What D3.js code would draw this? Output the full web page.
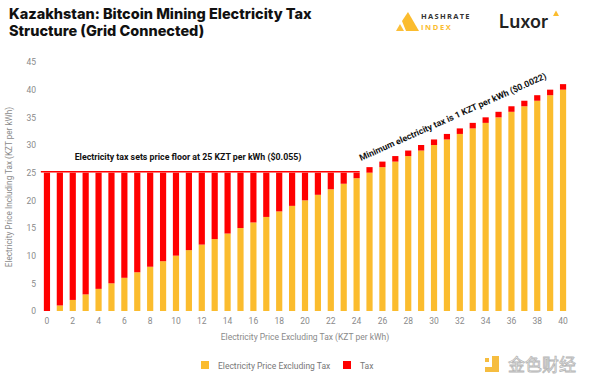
<!DOCTYPE html>
<html>
<head>
<meta charset="utf-8">
<script src="https://cdn.jsdelivr.net/npm/d3@7"></script>
<style>
 body { margin: 0; background: #fff; }
 svg { display: block; }
</style>
</head>
<body>
<svg id="kz_tax" width="600" height="385"></svg>
<script>

// categories: electricity price excluding tax (KZT per kWh)
var price_excl = [0, 1, 2, 3, 4, 5, 6, 7, 8, 9, 10, 11, 12, 13, 14, 15, 16, 17, 18, 19, 20,
                  21, 22, 23, 24, 25, 26, 27, 28, 29, 30, 31, 32, 33, 34, 35, 36, 37, 38, 39, 40];

// tax on top of that price
var tax_vals = [25, 24, 23, 22, 21, 20, 19, 18, 17, 16, 15, 14, 13, 12, 11, 10, 9, 8, 7, 6, 5,
                4, 3, 2, 1, 1, 1, 1, 1, 1, 1, 1, 1, 1, 1, 1, 1, 1, 1, 1, 1];

var y_ticks = [0, 5, 10, 15, 20, 25, 30, 35, 40, 45];
var x_ticks = [0, 2, 4, 6, 8, 10, 12, 14, 16, 18, 20, 22, 24, 26, 28, 30, 32, 34, 36, 38, 40];

var floor_price = 25;
var floor_end = 24;

var c_price = "#fbbc2e";
var c_tax = "#ff0000";

var svg = d3.select("#kz_tax");

// plot area
var margin = {top: 62, right: 30, bottom: 74, left: 40};
var width = 600 - margin.left - margin.right;
var height = 385 - margin.top - margin.bottom;

var g = svg.append("g")
    .attr("transform", "translate(" + margin.left + "," + margin.top + ")");

var rows = price_excl.map(function(p, i) { return {x: p, price: p, tax: tax_vals[i]}; });
var stacked = d3.stack().keys(["price", "tax"])(rows);

var x = d3.scaleBand()
    .domain(price_excl)
    .range([0.5, 529.5])
    .paddingInner(0.52)
    .paddingOuter(0.26);

var y = d3.scaleLinear().domain([0, 45]).range([249, 0]);

// bars
g.selectAll(".layer")
    .data(stacked)
  .enter().append("g")
    .attr("class", "layer")
    .attr("fill", function(d, i) { return i === 0 ? c_price : c_tax; })
  .selectAll("rect")
    .data(function(d) { return d; })
  .enter().append("rect")
    .attr("x", function(d) { return x(d.data.x); })
    .attr("width", x.bandwidth())
    .attr("y", function(d) { return y(d[1]); })
    .attr("height", function(d) { return Math.max(0, y(d[0]) - y(d[1])); });

// price floor line
g.append("line")
    .attr("x1", x(0) - 3)
    .attr("x2", x(floor_end) + x.bandwidth())
    .attr("y1", y(floor_price) - 1)
    .attr("y2", y(floor_price) - 1)
    .attr("stroke", c_tax)
    .attr("stroke-width", 1.5);

// axes
var xAxis = d3.axisBottom(x).tickValues(x_ticks).tickSize(0).tickPadding(7);
var yAxis = d3.axisLeft(y).tickValues(y_ticks).tickSize(0).tickPadding(4);

g.append("g")
    .attr("class", "axis axis--x")
    .attr("transform", "translate(0," + height + ")")
    .call(xAxis);

g.append("g")
    .attr("class", "axis axis--y")
    .call(yAxis);

svg.selectAll(".axis path").remove();
svg.selectAll(".axis text")
    .attr("fill", "#8a8a8a")
    .style("font-family", "Roboto, sans-serif")
    .style("font-size", "8.5px");

// axis titles
svg.append("text")
    .attr("x", 305).attr("y", 340)
    .attr("text-anchor", "middle")
    .attr("fill", "#8a8a8a")
    .style("font-family", "Roboto, sans-serif")
    .style("font-size", "8.5px")
    .text("Electricity Price Excluding Tax (KZT per kWh)");

svg.append("text")
    .attr("transform", "translate(12,187) rotate(-90)")
    .attr("text-anchor", "middle")
    .attr("fill", "#8a8a8a")
    .style("font-family", "Roboto, sans-serif")
    .style("font-size", "8.2px")
    .text("Electricity Price Including Tax (KZT per kWh)");

// annotations
svg.append("text")
    .attr("x", 188).attr("y", 160)
    .attr("text-anchor", "middle")
    .attr("fill", "#111")
    .style("font-family", "Roboto, sans-serif")
    .style("font-weight", "bold")
    .style("font-size", "8.8px")
    .text("Electricity tax sets price floor at 25 KZT per kWh ($0.055)");

svg.append("text")
    .attr("transform", "translate(361,161) rotate(-24)")
    .attr("fill", "#111")
    .style("font-family", "Roboto, sans-serif")
    .style("font-weight", "bold")
    .style("font-size", "8.8px")
    .text("Minimum electricity tax is 1 KZT per kWh ($0.0022)");

// title
var title = svg.append("text")
    .attr("fill", "#111")
    .style("font-family", "Inter, 'Open Sans', sans-serif")
    .style("font-weight", "800")
    .style("font-size", "14.5px");
title.append("tspan").attr("x", 9).attr("y", 19).text("Kazakhstan: Bitcoin Mining Electricity Tax");
title.append("tspan").attr("x", 9).attr("y", 36).text("Structure (Grid Connected)");

// logos
var logo = svg.append("g");
logo.append("path")
    .attr("d", "M396,31 L400,24 L404,31 Z")
    .attr("fill", "#fbbf3a");
logo.append("path")
    .attr("d", "M402,21 L408,12 L419,31 L406,31 Z")
    .attr("fill", "#fbbc2e");
logo.append("text")
    .attr("x", 421).attr("y", 19)
    .attr("fill", "#333")
    .style("font-family", "'Open Sans', sans-serif")
    .style("font-weight", "bold")
    .style("font-size", "7.5px")
    .style("letter-spacing", "1.3px")
    .text("HASHRATE");
logo.append("text")
    .attr("x", 421).attr("y", 30)
    .attr("fill", "#fbbc2e")
    .style("font-family", "'Open Sans', sans-serif")
    .style("font-weight", "bold")
    .style("font-size", "7.5px")
    .style("letter-spacing", "1.6px")
    .text("INDEX");
logo.append("text")
    .attr("x", 499).attr("y", 28)
    .attr("fill", "#222")
    .style("font-family", "Inter, 'Open Sans', sans-serif")
    .style("font-weight", "600")
    .style("font-size", "18px")
    .text("Luxor");
logo.append("path")
    .attr("d", "M553,16 L556,10.5 L559,16 Z")
    .attr("fill", "#fbbc2e");

// legend
var legend_items = ["Electricity Price Excluding Tax", "Tax"];
var legend_x = [201, 343];
var legend = svg.selectAll(".legend")
    .data(legend_items)
  .enter().append("g")
    .attr("class", "legend")
    .attr("transform", function(d, i) { return "translate(" + legend_x[i] + ",361)"; });
legend.append("rect")
    .attr("width", 8).attr("height", 8)
    .attr("fill", function(d, i) { return i === 0 ? c_price : c_tax; });
legend.append("text")
    .attr("x", 17).attr("y", 7.5)
    .attr("fill", "#777")
    .style("font-family", "Roboto, sans-serif")
    .style("font-size", "8.5px")
    .text(function(d) { return d; });

// watermark
var wm = svg.append("g").attr("opacity", 0.85);
wm.append("path")
    .attr("d", "M492,356 L499,356 L499,372 L485,372 L485,367 L492,367 Z")
    .attr("fill", "#f5b21e");
wm.append("rect")
    .attr("x", 485).attr("y", 358).attr("width", 4).attr("height", 4)
    .attr("fill", "#f5b21e");
wm.append("text")
    .attr("x", 508).attr("y", 371)
    .attr("fill", "#fff")
    .attr("stroke", "#aaa")
    .attr("stroke-width", 0.8)
    .style("font-family", "'Noto Sans CJK SC', sans-serif")
    .style("font-size", "17px")
    .text("金色财经");

</script>
</body>
</html>
